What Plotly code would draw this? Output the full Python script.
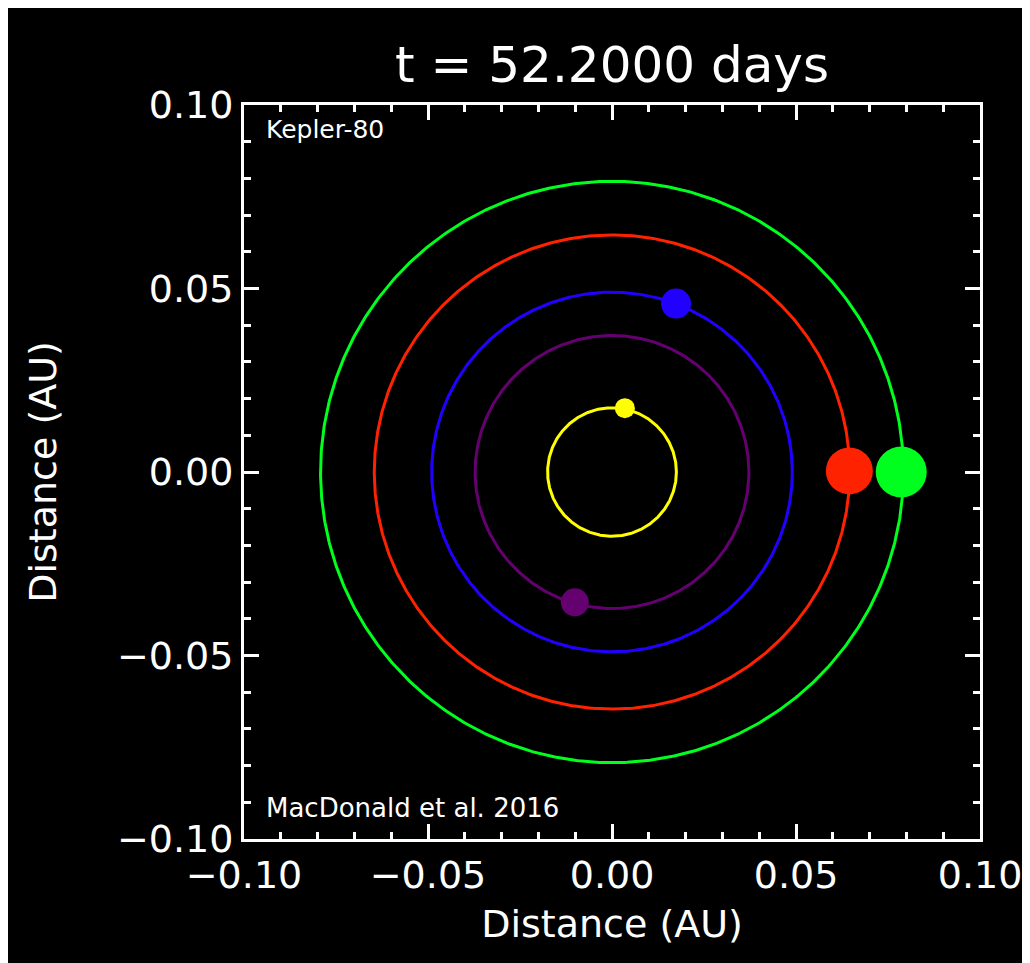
import numpy as np
import plotly.graph_objects as go

# ---- data ----
planet_names = ["Kepler-80 f", "Kepler-80 d", "Kepler-80 e", "Kepler-80 b", "Kepler-80 c"]
orbit_radius_au = [0.0175, 0.0372, 0.0490, 0.0646, 0.0792]
planet_x_au = [0.0035, -0.0101, 0.0174, 0.0645, 0.0786]
planet_y_au = [0.0174, -0.0355, 0.0459, 0.0003, 0.0000]
time_days = 52.2
tick_values = [-0.10, -0.05, 0.00, 0.05, 0.10]
tick_labels = ["\u22120.10", "\u22120.05", "0.00", "0.05", "0.10"]

# ---- styles ----
colors = ["#FFFF00", "#650070", "#2200FF", "#FF2200", "#00FF1E"]
marker_sizes = [20, 28, 30, 47, 51]
FONT = "DejaVu Sans"

fig = go.Figure()

theta = np.linspace(0, 2 * np.pi, 721)
for name, r, c in zip(planet_names, orbit_radius_au, colors):
    fig.add_trace(go.Scatter(
        x=r * np.cos(theta), y=r * np.sin(theta), mode="lines",
        line=dict(color=c, width=3), name=name + " orbit",
        showlegend=False, hoverinfo="skip"))

for name, px, py, c, s in zip(planet_names, planet_x_au, planet_y_au, colors, marker_sizes):
    fig.add_trace(go.Scatter(
        x=[px], y=[py], mode="markers",
        marker=dict(color=c, size=s, line=dict(width=0)),
        name=name, showlegend=False))

axis_common = dict(
    range=[-0.1, 0.1], tickmode="array", tickvals=tick_values, ticktext=tick_labels,
    showgrid=False, zeroline=False, showline=True, linecolor="white", linewidth=3,
    mirror="allticks", ticks="inside", ticklen=15, tickwidth=3, tickcolor="white",
    minor=dict(dtick=0.01, tick0=0, ticks="inside", ticklen=7, tickwidth=3, tickcolor="white"),
    tickfont=dict(family=FONT, size=38, color="white"),
    fixedrange=True,
)

fig.update_layout(
    width=1030, height=963,
    margin=dict(l=236, r=58, t=97, b=132),
    paper_bgcolor="black", plot_bgcolor="black",
    title=dict(text=f"t = {time_days:.4f} days", x=604 / 1030, xanchor="center",
               y=1 - 56 / 963, yanchor="middle",
               font=dict(family=FONT, size=50, color="white")),
    xaxis=dict(**axis_common,
               title=dict(text="Distance (AU)", font=dict(family=FONT, size=38, color="white"),
                          standoff=15)),
    yaxis=dict(**axis_common,
               title=dict(text="Distance (AU)", font=dict(family=FONT, size=38, color="white"),
                          standoff=49)),
    annotations=[
        dict(text="Kepler-80", xref="paper", yref="paper", x=0.027, y=0.966,
             xanchor="left", yanchor="middle", showarrow=False,
             font=dict(family=FONT, size=25, color="white")),
        dict(text="MacDonald et al. 2016", xref="paper", yref="paper", x=0.027, y=0.042,
             xanchor="left", yanchor="middle", showarrow=False,
             font=dict(family=FONT, size=26, color="white")),
    ],
)

fig.write_html("out.html", config={"displayModeBar": False})
